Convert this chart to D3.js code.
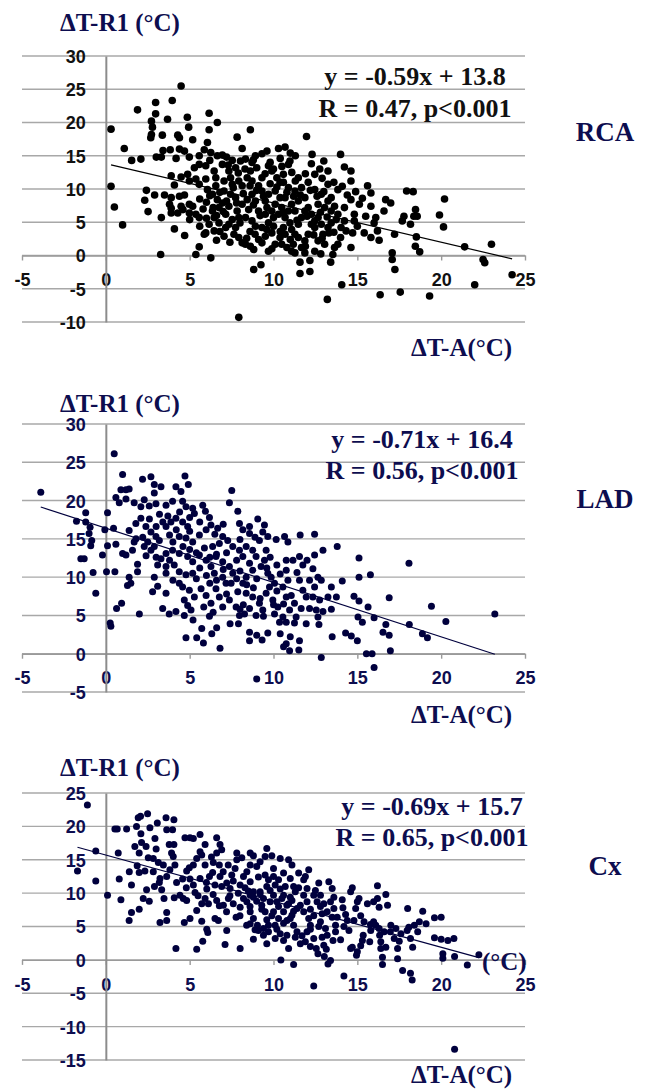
<!DOCTYPE html>
<html>
<head>
<meta charset="utf-8">
<script src="https://cdn.jsdelivr.net/npm/d3@7"></script>
<style>
  body { margin: 0; background: #fff; }
  svg { display: block; }
  .tick text { font-family: "Liberation Sans", Arial, sans-serif; font-weight: bold; font-size: 18px; }
  .ttl { font-family: "Liberation Serif", "Times New Roman", serif; font-weight: bold; }
</style>
</head>
<body>
<svg width="646" height="1089"></svg>
<script>
// ---- data ----
let xTicks = [-5, 0, 5, 10, 15, 20, 25];
let panelNames = ["RCA", "LAD", "Cx"];
let yLabel = "ΔT-R1 (°C)";
let xLabel = "ΔT-A(°C)";
let eqTexts = ["y = -0.59x + 13.8", "y = -0.71x + 16.4", "y = -0.69x + 15.7"];
let rTexts = ["R = 0.47, p<0.001", "R = 0.56, p<0.001", "R = 0.65, p<0.001"];
let slopes = [-0.59, -0.71, -0.69];
let intercepts = [13.8, 16.4, 15.7];
let yDomains = [[-10, 30], [-5, 30], [-15, 25]];

let rcaPoints = [[4.49,25.5],[2.97,23.0],[3.96,23.3],[1.89,21.9],[2.97,21.3],[4.86,20.8],[3.68,20.5],[6.16,21.4],[2.72,20.2],[6.65,20.0],[4.94,19.3],[2.78,19.3],[6.16,18.9],[0.31,19.0],[8.62,18.9],[2.72,18.2],[3.37,18.1],[4.29,18.1],[7.83,17.8],[11.97,17.9],[2.68,17.7],[4.39,17.7],[5.18,17.4],[6.06,17.0],[1.10,16.1],[8.13,16.1],[3.41,15.8],[3.84,15.9],[4.39,16.0],[4.69,15.7],[5.87,15.9],[6.26,15.5],[9.61,15.7],[10.3,16.1],[10.69,16.3],[9.31,15.3],[8.92,15.0],[3.01,14.8],[3.31,14.8],[1.54,14.3],[2.09,14.5],[4.19,14.6],[4.98,14.8],[5.57,15.0],[6.65,15.0],[6.95,15.1],[7.54,14.3],[8.33,14.5],[8.72,14.0],[9.7,13.5],[10.98,14.2],[10.89,13.7],[12.26,13.8],[14.0,15.2],[14.23,13.3],[14.62,12.7],[14.62,11.2],[12.76,13.0],[13.25,12.7],[12.46,12.2],[12.07,11.0],[11.48,11.7],[11.09,12.5],[10.59,12.2],[10.39,11.0],[3.90,12.0],[4.49,11.8],[4.88,12.2],[4.98,11.2],[5.37,11.5],[5.57,10.7],[5.96,11.5],[6.56,11.7],[7.05,11.2],[7.44,11.7],[7.93,11.2],[8.43,11.7],[8.72,11.2],[9.11,10.5],[8.13,10.5],[7.54,10.7],[6.56,10.5],[4.09,10.6],[0.31,10.4],[2.42,9.8],[2.91,9.1],[2.32,8.3],[3.5,9.1],[3.9,8.7],[4.39,8.9],[4.69,9.1],[3.8,7.7],[3.9,7.1],[3.9,6.4],[2.52,6.6],[3.31,5.7],[4.09,4.0],[0.51,7.3],[1.0,4.6],[3.27,0.15],[5.37,0.15],[6.26,-0.35],[5.57,1.3],[4.98,7.7],[5.18,7.4],[4.98,6.4],[5.37,6.2],[5.57,5.7],[6.06,9.9],[6.36,9.2],[6.65,8.4],[6.95,7.9],[6.75,7.2],[6.36,6.7],[6.46,5.7],[6.16,4.7],[5.96,3.4],[5.87,3.2],[6.46,3.7],[7.05,2.9],[7.15,6.2],[7.54,5.4],[7.34,4.7],[7.74,4.2],[7.64,3.2],[7.93,2.7],[8.13,1.9],[8.33,1.7],[8.62,1.4],[8.82,0.9],[9.11,2.4],[9.31,1.9],[9.7,0.65],[9.51,2.9],[9.9,3.4],[10.0,4.4],[10.39,2.7],[10.49,1.7],[10.1,1.7],[8.13,7.7],[8.43,8.4],[8.72,9.2],[8.92,8.2],[8.52,6.9],[8.33,5.7],[8.72,5.2],[8.92,4.4],[9.31,4.2],[9.7,4.9],[9.51,6.2],[9.61,7.2],[9.51,8.2],[9.7,9.2],[9.31,9.7],[10.1,9.7],[10.39,8.7],[10.1,7.7],[10.49,7.2],[10.3,6.2],[10.69,5.7],[10.98,4.9],[11.08,3.9],[11.28,3.2],[11.48,2.7],[11.18,1.7],[11.08,0.65],[11.67,1.2],[11.87,2.2],[12.07,3.2],[11.58,-1.0],[11.58,-2.7],[12.17,-2.4],[12.17,-0.75],[12.82,0.25],[13.05,1.7],[12.95,3.2],[13.25,4.2],[13.44,4.9],[13.74,5.4],[13.64,1.2],[13.54,0.15],[13.41,-1.0],[14.0,2.7],[13.21,-6.6],[14.07,-4.4],[7.93,-9.3],[8.82,-2.1],[9.25,-1.4],[12.46,5.2],[12.26,6.2],[11.87,6.7],[11.67,5.7],[11.48,4.7],[12.07,7.2],[12.66,7.7],[13.05,7.2],[13.44,6.7],[13.84,6.2],[14.23,5.2],[13.44,8.7],[13.25,10.7],[13.84,9.9],[12.85,9.2],[12.46,9.9],[11.87,8.7],[11.48,8.2],[11.08,7.7],[10.89,6.7],[11.28,6.7],[11.28,9.7],[11.67,10.2],[14.62,8.4],[15.12,7.7],[14.82,6.2],[14.82,5.2],[14.72,3.4],[14.62,1.2],[15.41,3.4],[15.81,2.7],[15.61,10.5],[15.81,9.4],[15.81,7.4],[16.1,5.7],[16.2,3.7],[16.0,4.9],[16.69,8.4],[16.99,7.9],[16.59,6.7],[17.22,3.2],[17.08,0.4],[17.08,-0.6],[17.24,-2.1],[16.36,-5.9],[17.56,-5.5],[17.78,5.9],[17.68,5.2],[17.94,9.7],[18.33,9.6],[18.17,4.7],[18.47,6.9],[18.37,5.9],[18.57,5.9],[18.52,2.8],[18.46,1.4],[18.72,0.55],[19.31,-6.1],[19.9,6.1],[20.14,4.3],[20.2,8.5],[21.4,1.3],[22.0,-4.4],[22.5,-0.6],[22.6,-1.1],[23.0,1.7],[24.23,-2.9],[5.57,13.7],[5.96,13.5],[6.46,12.7],[5.28,13.2],[6.95,13.7],[7.34,12.7],[7.74,13.2],[8.03,14.2],[8.62,12.7],[9.0,13.2],[9.9,12.7],[10.2,11.7],[9.31,11.7],[7.05,9.7],[7.44,9.2],[7.74,8.7],[7.34,7.4],[7.83,6.7],[7.93,5.7],[9.11,6.7],[9.9,6.7],[10.69,8.7],[10.89,10.2],[10.59,11.0],[4.49,7.4],[4.29,6.4],[7.15,4.2],[6.75,4.9],[10.59,4.2],[10.69,3.2],[12.26,4.7],[12.66,5.7],[12.85,4.7],[12.46,4.2],[13.25,8.2],[13.64,7.4],[14.23,7.2],[14.03,4.2],[14.33,3.7],[13.84,1.7],[12.66,2.2],[12.46,0.65],[11.87,0.4],[11.28,0.4],[6.0,8.0],[6.8,9.5],[7.2,8.2],[7.6,10.2],[8.2,9.3],[8.6,10.5],[9.0,9.8],[9.4,8.9],[9.8,10.8],[10.2,10.3],[10.8,9.5],[11.2,8.9],[11.6,9.1],[12.2,9.8],[12.6,8.9],[13.0,9.6],[6.4,7.2],[7.0,6.6],[7.8,7.9],[8.8,7.6],[9.2,6.0],[10.0,5.7],[10.6,6.4],[11.4,5.3],[12.0,5.9],[12.8,6.5],[13.2,5.8],[8.0,4.9],[8.6,3.6],[9.6,3.9],[10.4,3.6],[11.0,2.4],[12.4,3.1],[13.6,3.5],[6.6,6.0],[5.8,7.0],[5.6,8.5],[6.2,9.0],[6.2,14.3],[7.2,14.8],[7.9,12.4],[8.3,13.0],[9.5,12.3],[10.0,13.0],[10.5,13.4],[11.3,11.2],[11.9,12.3],[12.9,11.6],[13.6,11.0],[14.1,10.4],[14.9,9.6],[14.4,9.1],[15.3,8.6],[15.0,4.4],[15.5,5.9],[16.3,2.3],[12.9,2.6],[13.3,3.4],[11.9,1.4],[9.9,1.0],[10.8,1.2],[8.9,3.2],[8.4,2.6],[7.4,2.0],[6.8,3.6],[6.6,2.3],[6.0,5.6],[5.6,4.4],[5.0,5.4],[4.7,3.0],[4.6,6.9],[7.3,13.6],[8.8,14.4],[9.8,14.0],[11.3,15.0],[11.0,15.4],[12.3,15.2],[13.0,14.2],[10.4,14.6]];

let ladPoints = [[-3.88,21.1],[0.5,26.1],[1.0,23.4],[2.19,22.8],[2.69,23.1],[2.89,22.1],[3.29,21.8],[4.72,23.2],[4.92,22.1],[4.18,21.8],[4.48,21.2],[7.51,21.3],[7.37,19.7],[7.87,18.6],[0.6,20.4],[0.9,21.4],[1.2,21.4],[1.39,21.5],[0.8,19.7],[1.2,20.2],[1.69,19.7],[2.09,19.2],[2.29,20.1],[2.59,19.3],[2.89,21.0],[2.99,19.6],[3.59,19.4],[3.98,19.9],[4.58,19.9],[4.78,19.2],[5.18,19.0],[5.78,19.4],[5.28,18.3],[5.94,18.6],[6.18,17.8],[-1.2,18.4],[-1.75,17.3],[-1.2,17.2],[-0.94,16.5],[-1.0,15.7],[-0.84,14.8],[-0.9,14.1],[-1.49,12.4],[-1.29,12.4],[-0.76,10.6],[-0.6,7.9],[0.1,18.4],[-0.06,16.2],[0.46,16.4],[0.1,14.1],[0.6,14.3],[-0.2,12.9],[0.04,10.7],[0.54,10.7],[0.26,4.0],[0.3,3.6],[0.64,5.9],[0.94,6.6],[1.39,10.0],[1.49,9.2],[1.29,8.9],[2.0,5.2],[1.89,10.7],[1.89,11.7],[1.0,13.1],[1.2,12.9],[1.59,13.5],[1.69,14.6],[1.39,16.1],[1.79,17.0],[2.09,17.7],[2.39,16.6],[2.69,15.9],[2.99,15.3],[2.29,14.0],[2.69,13.5],[2.89,14.0],[3.19,14.8],[3.59,16.6],[3.88,17.2],[4.18,17.7],[4.58,17.2],[4.88,16.6],[4.38,15.3],[4.78,15.1],[5.18,14.6],[5.58,15.5],[5.98,16.2],[6.27,16.8],[6.67,16.4],[6.97,15.3],[7.27,14.8],[7.57,14.0],[6.77,14.4],[6.37,14.0],[5.88,13.8],[5.58,12.9],[5.18,12.0],[4.88,12.7],[4.38,13.1],[3.98,13.5],[3.59,13.1],[3.29,12.4],[3.09,11.6],[3.59,11.4],[4.08,11.6],[4.38,10.7],[4.78,10.3],[5.18,10.5],[3.59,10.5],[2.89,10.0],[3.09,8.8],[2.79,8.1],[3.59,7.9],[4.38,9.2],[4.58,8.7],[4.98,8.3],[5.28,7.4],[5.68,8.5],[5.98,7.6],[4.68,7.0],[4.88,6.3],[5.08,5.7],[4.68,5.0],[4.18,5.5],[3.78,5.2],[3.39,5.9],[4.78,2.1],[5.42,2.1],[5.72,3.3],[5.82,1.4],[6.32,2.6],[6.61,3.4],[6.81,0.7],[6.18,4.9],[5.84,6.1],[6.27,6.6],[6.57,8.5],[6.77,7.4],[6.97,6.1],[7.37,7.0],[7.17,9.2],[6.97,10.0],[6.47,10.5],[6.27,11.4],[5.98,12.2],[6.57,12.7],[6.97,12.0],[7.37,11.4],[7.57,10.5],[7.47,9.2],[7.87,8.1],[7.77,6.1],[7.41,3.9],[7.91,3.9],[7.97,5.0],[8.27,5.2],[8.57,5.9],[8.57,2.8],[8.57,1.7],[9.0,2.4],[9.32,1.8],[9.66,2.7],[8.96,5.0],[9.36,5.7],[9.16,6.6],[8.76,7.4],[8.37,7.9],[8.17,9.2],[8.37,10.0],[8.76,10.9],[8.57,11.8],[8.17,12.7],[7.97,13.5],[8.37,14.0],[8.76,13.5],[8.96,12.7],[9.16,14.8],[8.57,15.7],[8.17,16.2],[7.97,17.0],[8.57,16.6],[9.06,17.6],[9.46,16.8],[9.36,15.9],[9.66,15.3],[10.16,14.9],[10.66,15.3],[10.86,14.6],[9.56,13.5],[9.46,12.2],[9.26,11.4],[9.66,10.5],[9.86,10.0],[10.06,9.2],[9.76,8.7],[9.56,7.9],[9.96,7.0],[10.26,6.1],[10.06,5.2],[10.56,4.8],[10.36,4.1],[10.4,2.6],[10.76,4.1],[10.96,5.7],[11.25,6.6],[11.06,7.6],[10.76,7.4],[10.56,8.7],[10.86,9.6],[10.76,10.9],[10.76,12.2],[11.16,12.2],[11.55,12.7],[11.75,11.6],[11.55,9.6],[11.75,8.3],[11.95,7.4],[11.65,5.9],[11.35,4.8],[11.25,4.0],[11.0,2.2],[11.55,1.7],[11.51,0.5],[10.76,1.3],[10.96,0.4],[10.6,0.9],[11.59,15.5],[12.45,15.6],[12.45,12.9],[12.35,11.1],[12.15,9.6],[12.45,8.7],[12.65,10.0],[12.85,9.6],[12.95,13.5],[12.35,7.4],[12.75,7.0],[12.15,5.9],[12.55,5.7],[12.95,5.5],[12.65,4.8],[11.95,3.9],[12.71,3.8],[12.85,-0.5],[13.25,7.4],[13.5,2.2],[13.45,5.8],[13.75,7.4],[13.45,8.7],[13.8,14.0],[14.1,9.5],[14.3,2.7],[14.64,2.3],[14.8,7.5],[15.1,6.9],[15.04,4.8],[15.3,4.1],[15.0,1.7],[15.1,12.5],[15.1,10.0],[15.54,0],[15.88,0],[16.0,-1.8],[15.78,10.3],[15.64,6.1],[16.0,4.7],[16.53,2.8],[16.7,3.8],[16.9,2.4],[16.9,7.3],[16.97,0.4],[18.1,3.8],[18.08,11.8],[18.88,2.6],[19.18,2.1],[19.42,6.2],[20.28,4.2],[23.2,5.2],[9.0,-3.3],[3.8,15.5],[4.2,16.2],[4.6,14.0],[5.4,13.2],[5.0,16.0],[3.4,17.2],[2.6,17.6],[6.6,13.0],[7.0,11.0],[7.8,12.2],[8.0,10.8],[8.4,9.0],[9.0,9.8],[9.6,11.2],[10.2,8.2],[10.4,10.4],[6.2,9.2],[5.4,9.8],[4.0,9.6],[3.0,12.6],[2.4,12.8],[1.8,15.0],[2.2,15.2],[6.0,10.2],[7.2,7.8],[8.2,6.4],[9.4,4.9],[10.6,6.5],[11.4,10.6],[12.0,12.2],[3.2,18.2],[3.7,18.0],[4.4,18.5],[5.0,17.8],[5.6,17.2],[6.5,15.6],[7.0,16.9],[3.0,16.6],[2.5,14.6],[4.0,14.6],[5.0,13.6],[6.2,12.6],[7.2,13.2],[8.0,14.9],[8.9,15.2],[9.8,12.6],[10.2,11.6],[3.8,12.2],[5.6,11.2],[6.6,9.6],[7.8,9.8],[8.8,8.6],[9.2,7.2],[10.0,6.4],[8.0,5.8],[6.4,5.4],[5.2,4.4]];

let cxPoints = [[-1.1,23.2],[-1.69,13.3],[-0.6,16.3],[-0.6,11.8],[0.1,9.7],[0.54,19.6],[0.68,19.6],[0.74,16.0],[0.8,12.1],[0.9,9.0],[1.24,19.6],[1.53,11.2],[1.39,5.9],[1.53,7.1],[1.73,17.0],[1.83,20.0],[1.93,21.3],[2.07,21.5],[2.49,21.9],[1.99,16.0],[2.09,18.9],[2.13,17.6],[1.87,14.1],[1.99,13.1],[2.33,13.3],[2.53,15.3],[2.63,19.8],[2.93,18.2],[3.07,20.5],[2.83,15.2],[3.13,14.6],[1.99,7.6],[2.23,9.2],[2.59,8.8],[2.43,10.5],[2.83,13.2],[3.23,12.2],[3.19,11.6],[3.43,14.2],[3.59,21.3],[3.63,19.5],[4.06,21.0],[3.98,19.5],[3.78,17.3],[4.06,17.3],[3.92,16.0],[4.02,15.5],[4.12,14.2],[3.82,13.5],[3.63,12.5],[3.33,10.5],[3.47,9.2],[3.23,5.6],[3.63,7.1],[3.63,5.9],[4.08,9.3],[4.18,1.7],[4.22,11.6],[4.42,9.7],[4.62,9.2],[4.68,5.6],[4.82,8.9],[4.58,12.1],[4.82,13.3],[4.98,13.8],[4.72,18.3],[5.02,18.3],[5.22,18.2],[5.62,18.8],[5.92,17.3],[5.62,16.2],[5.42,15.2],[5.72,15.7],[5.22,14.2],[5.92,14.2],[5.02,12.1],[5.22,11.2],[5.32,10.1],[5.02,6.2],[5.42,7.4],[5.42,1.6],[5.72,5.8],[5.78,2.8],[6.02,4.6],[6.08,4.1],[5.92,9.2],[5.72,8.4],[6.12,8.4],[6.02,10.6],[5.62,12.2],[6.18,12.5],[6.37,13.1],[6.41,14.6],[6.61,18.3],[6.81,17.3],[6.91,16.5],[6.61,16.0],[6.77,14.2],[6.81,12.5],[6.51,11.2],[6.91,11.0],[6.61,8.9],[6.77,8.1],[6.51,6.2],[6.71,5.9],[7.11,2.3],[7.21,4.4],[7.01,8.2],[7.31,9.2],[7.41,10.7],[7.21,11.5],[7.51,12.7],[7.71,13.7],[7.81,15.0],[7.81,16.0],[8.11,15.3],[7.77,6.4],[8.01,1.7],[8.01,7.9],[8.21,9.2],[8.01,11.2],[8.21,12.5],[8.41,13.2],[8.61,14.2],[8.61,16.0],[8.8,15.6],[9.0,14.0],[9.2,14.7],[8.61,11.7],[8.8,10.2],[8.61,9.7],[8.41,8.7],[8.61,7.2],[8.8,6.2],[8.61,5.4],[8.8,3.1],[9.04,5.2],[9.1,4.4],[9.4,4.7],[9.7,5.2],[9.6,2.4],[9.7,4.2],[9.5,7.2],[9.3,8.2],[9.4,9.2],[9.2,10.2],[9.6,11.0],[9.7,12.0],[9.5,12.7],[9.6,16.7],[9.5,15.5],[9.9,15.6],[10.0,13.7],[10.0,12.5],[10.1,11.2],[10.0,9.7],[9.8,8.7],[10.2,8.7],[10.0,7.2],[10.3,6.2],[10.1,5.2],[10.4,3.9],[10.6,2.9],[10.9,1.7],[10.44,0],[11.2,-0.7],[10.8,5.9],[10.6,7.2],[10.8,8.2],[10.6,9.7],[10.7,11.0],[10.6,13.0],[10.9,15.0],[10.4,15.2],[11.1,14.2],[11.0,12.2],[11.2,11.0],[11.3,10.2],[11.1,8.9],[11.4,7.7],[11.1,6.7],[11.2,5.2],[11.4,4.2],[11.6,2.4],[11.9,2.7],[11.8,12.0],[11.9,12.5],[12.1,13.5],[12.0,10.7],[11.8,9.7],[12.0,8.7],[11.8,7.2],[12.1,6.2],[12.2,5.2],[12.0,4.2],[12.4,3.2],[12.55,1.7],[12.65,0.9],[12.4,-3.9],[12.4,9.7],[12.6,8.7],[12.8,9.7],[12.7,11.5],[12.9,6.9],[12.8,5.7],[13.1,4.7],[12.9,3.4],[13.2,3.7],[13.03,0.5],[13.15,1.6],[13.25,-0.6],[13.4,-0.1],[13.3,11.7],[13.5,10.7],[13.6,9.4],[13.4,8.7],[13.6,7.7],[13.5,6.4],[13.7,5.2],[13.7,4.2],[13.55,2.9],[14.14,7.8],[14.2,-2.4],[14.4,5.9],[14.6,10.2],[14.7,10.8],[14.7,1.9],[14.6,1.7],[14.8,5.9],[14.9,7.7],[15.0,8.7],[15.1,9.2],[15.0,1.2],[14.95,0.7],[15.2,2.1],[15.3,2.9],[15.35,3.7],[15.4,5.7],[15.74,2.7],[15.78,5.3],[15.6,8.4],[15.97,8.7],[16.2,9.2],[16.2,11.1],[16.3,7.9],[15.97,5.7],[16.1,5.2],[16.3,4.7],[16.33,3.7],[16.4,2.7],[16.4,1.7],[16.5,0.4],[16.5,-0.7],[16.6,4.2],[16.7,1.9],[16.7,9.8],[16.8,8.2],[16.97,4.2],[17.3,4.7],[17.4,1.7],[17.4,0.15],[17.5,2.8],[17.6,3.9],[17.7,-1.6],[17.97,4.4],[18.0,7.7],[18.07,4.9],[18.17,3.2],[18.17,-2.0],[18.27,-3.0],[18.3,1.9],[18.4,5.2],[18.6,4.2],[18.7,5.7],[18.9,7.3],[19.1,5.4],[19.6,6.3],[19.6,3.3],[20.0,6.4],[20.0,3.1],[20.1,0.9],[20.1,0.25],[20.4,2.9],[20.76,3.2],[20.8,0.5],[21.56,-0.75],[22.25,0.75],[20.8,-13.4],[10.3,8.0],[10.5,9.2],[10.9,8.4],[11.2,7.3],[11.0,6.2],[10.6,5.5],[10.2,4.6],[9.9,6.6],[9.3,7.6],[9.0,8.8],[8.8,9.4],[9.2,9.9],[9.8,10.4],[10.4,10.6],[11.5,10.8],[11.6,8.2],[12.2,7.6],[12.4,6.6],[12.7,5.0],[12.2,4.6],[11.7,3.6],[11.3,3.4],[10.8,3.7],[10.1,3.2],[9.4,3.7],[8.9,4.5],[8.4,5.2],[8.0,6.6],[7.6,8.4],[7.4,9.6],[7.9,10.0],[8.5,10.3],[12.8,8.0],[13.2,7.2],[13.8,6.4],[14.2,5.0],[14.5,4.4],[14.0,3.0],[13.0,2.2],[12.2,2.0],[6.3,15.4],[7.3,14.2],[7.0,13.2],[6.0,11.6],[5.5,9.6],[4.8,10.8],[3.0,16.6],[2.4,17.0],[1.4,13.2],[2.9,11.0],[7.6,11.8],[8.3,10.8],[9.1,12.4],[10.3,12.0],[11.5,13.0],[12.5,10.4],[13.0,8.4],[14.1,9.0],[14.3,6.8],[15.2,6.6],[15.8,4.4],[17.0,5.2],[17.2,3.2],[11.0,9.4],[9.6,6.0],[8.6,8.0],[7.2,7.2],[6.4,9.8]];

let allPoints = [rcaPoints, ladPoints, cxPoints];

// ---- layout ----
let svg = d3.select("svg");
let navy = "#0d0d4f";
let layout = [
    {top: 56, bottom: 322, dot: "#000", text: "#111", r: 3.8, yLab: 31, xLab: 356, eqX: 415, eqY: 85, rY: 117, side: 141},
    {top: 424, bottom: 692, dot: "#00003d", text: navy, r: 3.5, yLab: 412, xLab: 723, eqX: 422, eqY: 448, rY: 479, side: 508},
    {top: 793, bottom: 1060, dot: "#00003d", text: navy, r: 3.5, yLab: 776, xLab: 1083, eqX: 432, eqY: 815, rY: 846, side: 875}
];

let x = d3.scaleLinear().domain([-5, 25]).range([22, 525]);

layout.forEach(function (L, i) {
    let y = d3.scaleLinear().domain(yDomains[i]).range([L.bottom, L.top]);
    let yTicks = d3.range(yDomains[i][0], yDomains[i][1] + 1, 5);
    let g = svg.append("g");

    // gridlines
    g.selectAll(".grid").data(yTicks).enter().append("line")
        .attr("x1", x(-5)).attr("x2", x(25))
        .attr("y1", d => y(d)).attr("y2", d => y(d))
        .attr("stroke", "#a8a8a8").attr("stroke-width", 1.4);

    // x axis on y = 0
    let xAxis = g.append("g")
        .attr("transform", "translate(0," + y(0) + ")")
        .call(d3.axisBottom(x).tickValues(xTicks).tickFormat(d => String(d))
            .tickSizeInner(5).tickSizeOuter(0).tickPadding(13));
    xAxis.select(".domain").attr("stroke", "#9a9a9a").attr("stroke-width", 1.4);
    xAxis.selectAll(".tick line").attr("stroke", "#9a9a9a").attr("stroke-width", 1.4);
    xAxis.selectAll(".tick text").attr("fill", L.text);

    // y axis on x = 0
    let yAxis = g.append("g")
        .attr("transform", "translate(" + x(0) + ",0)")
        .call(d3.axisLeft(y).tickValues(yTicks).tickFormat(d => String(d)).tickSize(0).tickPadding(20));
    yAxis.select(".domain").attr("stroke", "#8c8c8c").attr("stroke-width", 2);
    yAxis.selectAll(".tick text").attr("fill", L.text).attr("dy", "0.36em");

    // regression line over the data range
    let ext = d3.extent(allPoints[i], d => d[0]);
    g.append("line")
        .attr("x1", x(ext[0])).attr("y1", y(slopes[i] * ext[0] + intercepts[i]))
        .attr("x2", x(ext[1])).attr("y2", y(slopes[i] * ext[1] + intercepts[i]))
        .attr("stroke", L.dot).attr("stroke-width", 1.2);

    // points
    g.selectAll(".pt").data(allPoints[i]).enter().append("circle")
        .attr("cx", d => x(d[0])).attr("cy", d => y(d[1]))
        .attr("r", L.r).attr("fill", L.dot);

    // texts
    g.append("text").attr("class", "ttl").attr("x", 60).attr("y", L.yLab)
        .attr("font-size", 25).attr("fill", navy).text(yLabel);
    g.append("text").attr("class", "ttl").attr("x", 411).attr("y", L.xLab)
        .attr("font-size", 25).attr("fill", navy).text(xLabel);
    g.append("text").attr("class", "ttl").attr("x", L.eqX).attr("y", L.eqY)
        .attr("text-anchor", "middle").attr("font-size", 26).attr("fill", L.text).text(eqTexts[i]);
    g.append("text").attr("class", "ttl").attr("x", L.eqX).attr("y", L.rY)
        .attr("text-anchor", "middle").attr("font-size", 26).attr("fill", L.text).text(rTexts[i]);
    g.append("text").attr("class", "ttl").attr("x", 605).attr("y", L.side)
        .attr("text-anchor", "middle").attr("font-size", 27).attr("fill", navy).text(panelNames[i]);

    if (i === 2) {
        // stray unit label at the end of the Cx trend line
        g.append("text").attr("class", "ttl").attr("x", x(ext[1]) + 3).attr("y", y(0) + 10)
            .attr("font-size", 25).attr("fill", navy).text("(°C)");
    }
});
</script>
</body>
</html>
